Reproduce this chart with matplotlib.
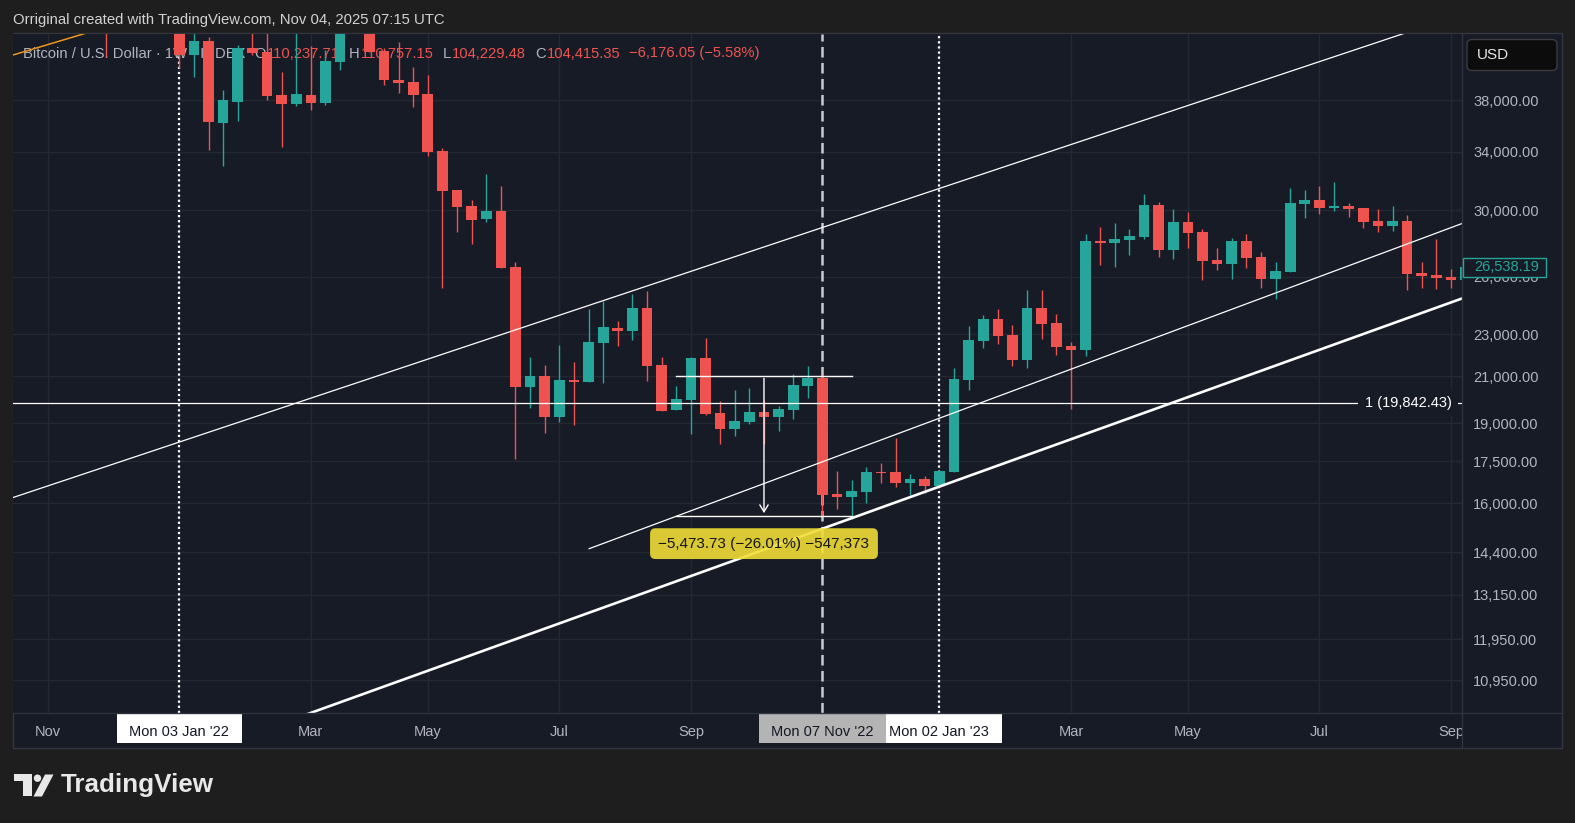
import matplotlib.pyplot as plt
import numpy as np
import pandas as pd
from matplotlib.patches import Rectangle, FancyBboxPatch, Circle, Polygon
from matplotlib.lines import Line2D
from matplotlib.transforms import Affine2D, blended_transform_factory
from matplotlib.ticker import NullLocator

plt.rcParams['font.family'] = ['Liberation Sans', 'DejaVu Sans']

W, H = 1575, 823
BG = '#171b26'
OUTER = '#1e1e1e'
GRID = '#242833'
SEP = '#2f333e'
UP = '#26a69a'
DOWN = '#ef5350'
AXIS_TXT = '#b2b5be'

# weekly BTC candles, 18 Oct 2021 .. 11 Sep 2023
week_start = pd.date_range('2021-10-18', '2023-09-11', freq='7D')
opens = [61530, 60860, 61320, 63270, 65500, 59000, 57300, 49400, 50100, 46700, 50800,
         46400, 41850, 43130, 36150, 37860, 42460, 42150, 38410, 37700, 38410,
         37780, 41250, 46800, 46400, 42240, 39670, 39500, 38490, 34060, 31330,
         30270, 29440, 29950, 26580, 20545, 21020, 19260, 20840, 20770, 22580,
         23300, 23170, 24320, 21520, 19540, 19970, 21860, 19430, 18760, 19050,
         19460, 19260, 19540, 20580, 20930, 16320, 16210, 16400, 17110, 17110,
         16720, 16850, 16610, 17120, 20840, 22660, 23760, 22960, 21760, 24320,
         23550, 22420, 22230, 28080, 27960, 28140, 28320, 30340, 27550, 29250,
         28630, 26960, 26730, 28080, 27130, 25880, 26280, 30400, 30660, 30140,
         30270, 30140, 29310, 29000, 29310, 26220, 26110, 26000, 25830]
highs = [67000, 63700, 64270, 69000, 66300, 59400, 59100, 51000, 50500, 51800, 52000,
         47500, 44400, 43530, 38820, 42760, 45800, 44700, 40380, 45400, 42690,
         42300, 48200, 48200, 47200, 42450, 43000, 40760, 40090, 34260, 31330,
         30660, 32420, 31600, 26860, 21910, 21520, 22470, 21660, 24270, 24710,
         23670, 25080, 25230, 21910, 20580, 21910, 22820, 19930, 20400, 20490,
         19970, 19710, 21110, 21480, 21045, 17150, 16820, 17290, 17440, 18400,
         17040, 16960, 17180, 21390, 23400, 23960, 24270, 23450, 25280, 25280,
         24010, 22610, 28510, 28940, 29190, 28810, 31060, 30530, 30080, 29890,
         28810, 27660, 28260, 28510, 27430, 26850, 31460, 31330, 31600, 31870,
         30470, 30150, 30080, 30270, 29690, 26850, 28200, 26440, 26880]
lows = [59700, 57820, 59400, 62330, 55600, 53500, 41700, 47000, 45600, 45600, 45700,
        40700, 39900, 34140, 32980, 36350, 41850, 38000, 34380, 37540, 37190,
        37600, 40530, 45200, 42100, 39240, 38600, 37460, 33700, 25410, 28650,
        27920, 29270, 26500, 17590, 19640, 18620, 19060, 18940, 20770, 20720,
        22430, 22710, 20800, 19500, 19540, 18560, 19330, 18170, 18480, 18970,
        18170, 18680, 19170, 20050, 15570, 15800, 15470, 16020, 16720, 16580,
        16300, 16370, 16580, 17110, 20400, 22340, 22520, 21480, 21390, 22760,
        21990, 19580, 21940, 26680, 26560, 27250, 28200, 27130, 27020, 27660,
        25830, 26390, 25880, 26500, 25390, 24800, 26280, 29500, 29760, 29950,
        29570, 28880, 28630, 28690, 25280, 25390, 25340, 25390, 24930]
closes = [60860, 61320, 63270, 65500, 59000, 57300, 49400, 50100, 46700, 50800, 46400,
          41850, 43130, 36270, 38000, 42460, 42060, 38350, 37700, 38490, 37780,
          41320, 46800, 46400, 42150, 39670, 39440, 38410, 34010, 31280, 30230,
          29380, 29950, 26520, 20545, 21020, 19260, 20840, 20750, 22610, 23350,
          23170, 24320, 21490, 19510, 20010, 21860, 19380, 18760, 19090, 19460,
          19260, 19580, 20620, 20930, 16290, 16230, 16430, 17110, 17070, 16720,
          16850, 16610, 17150, 20890, 22710, 23760, 22910, 21760, 24320, 23500,
          22370, 22230, 28080, 27960, 28200, 28380, 30340, 27550, 29250, 28570,
          26900, 26730, 28080, 27080, 25880, 26330, 30470, 30660, 30140, 30270,
          30080, 29250, 29000, 29310, 26160, 26050, 25940, 25830, 26538.19]
last_price = closes[-1]

price_ticks = [10950, 11950, 13150, 14400, 16000, 17500, 19000, 21000, 23000,
               26000, 30000, 34000, 38000]
month_dates = ['2021-11-01', '2022-03-07', '2022-05-02', '2022-07-04', '2022-09-05',
               '2023-03-06', '2023-05-01', '2023-07-03', '2023-09-04']
month_labels = ['Nov', 'Mar', 'May', 'Jul', 'Sep', 'Mar', 'May', 'Jul', 'Sep']
grid_dates = month_dates + ['2022-01-03', '2022-11-07', '2023-01-02']
marked_dates = ['2022-01-03', '2023-01-02', '2022-11-07']
marked_labels = ["Mon 03 Jan '22", "Mon 02 Jan '23", "Mon 07 Nov '22"]
marked_fill = ['#ffffff', '#ffffff', '#b4b4b4']

# drawings (date, price)
upper_line = [('2021-10-11', 16093), ('2023-09-25', 46777)]
mid_line = [('2022-07-18', 14508), ('2023-09-25', 29930)]
low_line = [('2022-02-28', 10092), ('2023-09-25', 25463)]
orange_line = [('2021-10-11', 41607), ('2021-12-20', 45698)]
level_price = 19842.43
meas_dates = ['2022-08-29', '2022-11-21']
meas_top, meas_bottom = 21044.73, 15571.00

legend_pieces = [('Bitcoin / U.S. Dollar · 1W · INDEX', AXIS_TXT, 0),
                 ('O', AXIS_TXT, 9), ('110,237.71', DOWN, 1),
                 ('H', AXIS_TXT, 9), ('110,757.15', DOWN, 1),
                 ('L', AXIS_TXT, 9), ('104,229.48', DOWN, 1),
                 ('C', AXIS_TXT, 9), ('104,415.35', DOWN, 1),
                 ('\u22126,176.05 (\u22125.58%)', DOWN, 9)]

ref = pd.Timestamp('2022-01-03')


def wk(d):
    return (pd.Timestamp(d) - ref).days / 7


x = ((week_start - ref).days / 7).to_numpy()
o, h, l, c = (np.array(v, dtype=float) for v in (opens, highs, lows, closes))

fig = plt.figure(figsize=(W / 100, H / 100), dpi=100, facecolor=OUTER)
px = Affine2D().scale(1 / W, -1 / H).translate(0, 1) + fig.transFigure


def rect(l_, t_, r_, b_):
    return [l_ / W, 1 - b_ / H, (r_ - l_) / W, (b_ - t_) / H]


fig.add_artist(Rectangle((12.5, 33.3), 1549.5, 714.4, transform=px, fc=BG,
                         ec='#34373f', lw=1, zorder=0))

ax = fig.add_axes(rect(13, 34, 1462, 713.3))
ax.set_facecolor(BG)
ax.set_yscale('log')

colors = np.where(c >= o, UP, DOWN)
ax.vlines(x, l, h, colors=colors, lw=1.0, zorder=2)
body = np.maximum(np.abs(c - o), o * 0.003)
ax.bar(x, body, bottom=np.minimum(o, c), width=0.73, color=colors, lw=0, zorder=3)

ax.set_xlim(-11.377, 87.754)
ax.set_ylim(10197, 43779)
ax.set_yticks(price_ticks)
ax.set_yticklabels([f'{v:,.2f}' for v in price_ticks])
ax.yaxis.set_minor_locator(NullLocator())
ax.yaxis.tick_right()
ax.tick_params(axis='y', length=0, pad=8, labelsize=10.5, labelcolor=AXIS_TXT)
ax.set_xticks([wk(d) for d in grid_dates])
ax.set_xticklabels([])
ax.tick_params(axis='x', length=0)
ax.grid(True, color=GRID, lw=1)
ax.set_axisbelow(True)
for s in ax.spines.values():
    s.set_visible(False)

# legend row under the candles
prev = ax.text(23, 53.5, legend_pieces[0][0], transform=px, color=legend_pieces[0][1],
               fontsize=10.6, va='center', ha='left', zorder=1)
for s, col, gap in legend_pieces[1:]:
    prev = ax.annotate(s, xy=(1, 0.5), xycoords=prev, xytext=(gap, 0),
                       textcoords='offset pixels', va='center', ha='left',
                       color=col, fontsize=10.6, zorder=1, annotation_clip=False)

# date markers (behind candles)
ax.axvline(wk('2022-01-03'), color='white', lw=1.6, ls=(0, (1, 1.3)), zorder=1.5)
ax.axvline(wk('2023-01-02'), color='white', lw=1.6, ls=(0, (1, 1.3)), zorder=1.5)
ax.axvline(wk('2022-11-07'), color='#c9cbd1', lw=1.8, ls=(0, (4.2, 2.2)), zorder=1.5)

# trend lines
for pts, col, lw in [(upper_line, 'white', 0.9), (mid_line, 'white', 0.9),
                     (low_line, 'white', 1.9), (orange_line, '#f0961c', 1.1)]:
    ax.plot([wk(pts[0][0]), wk(pts[1][0])], [pts[0][1], pts[1][1]],
            color=col, lw=lw, zorder=5, solid_capstyle='butt')

# horizontal level with label
ax.axhline(level_price, color='white', lw=0.9, zorder=5)
bl = blended_transform_factory(ax.transAxes, ax.transData)
ax.text(0.9928, level_price, f'1 ({level_price:,.2f})', transform=bl, ha='right',
        va='center', color='white', fontsize=10.5, zorder=6,
        bbox=dict(boxstyle='square,pad=0.45', fc=BG, ec='none'))

# price range measurement
m0, m1 = wk(meas_dates[0]), wk(meas_dates[1])
mid = (m0 + m1) / 2
ax.plot([m0, m1], [meas_top, meas_top], color='white', lw=1, zorder=6)
ax.plot([m0, m1], [meas_bottom, meas_bottom], color='white', lw=1, zorder=6)
ax.annotate('', xy=(mid, meas_bottom), xytext=(mid, meas_top),
            arrowprops=dict(arrowstyle='->,head_length=0.5,head_width=0.3',
                            color='white', lw=1), zorder=6)
ax.text(mid, meas_bottom * 0.9423,
        f'\u2212{meas_top - meas_bottom:,.2f} (\u2212{(1 - meas_bottom / meas_top) * 100:.2f}%) \u2212547,373',
        ha='center', va='center', color='#141414', fontsize=11, zorder=8,
        bbox=dict(boxstyle='round,pad=0.55,rounding_size=0.35', fc='#f0dd36',
                  ec='none', alpha=0.9))

# time axis
tax = fig.add_axes(rect(13, 713.3, 1462, 747.7))
tax.set_xlim(ax.get_xlim())
tax.set_ylim(0, 1)
tax.axis('off')
for d, s in zip(month_dates, month_labels):
    tax.text(wk(d), 0.465, s, ha='center', va='center', color=AXIS_TXT,
             fontsize=10.5, clip_on=True)
for d, s, fc in zip(marked_dates, marked_labels, marked_fill):
    wdt = 8.66 if fc != '#ffffff' else 8.52
    tax.add_patch(Rectangle((wk(d) - wdt / 2, 0.145), wdt, 0.855, fc=fc, ec='none',
                            zorder=2))
for d, s in zip(marked_dates, marked_labels):
    tax.text(wk(d), 0.465, s, ha='center', va='center', color='#131722',
             fontsize=10.5, zorder=3)

# panel separators
fig.add_artist(Line2D([1462, 1462], [34, 747.7], transform=px, color=SEP, lw=1, zorder=4))
fig.add_artist(Line2D([13, 1562], [713.3, 713.3], transform=px, color=SEP, lw=1, zorder=4))

# last price tag on the price scale
bp = blended_transform_factory(px, ax.transData)
fig.add_artist(Rectangle((1463.3, last_price / 1.0212), 82.7,
                         last_price * 1.0212 - last_price / 1.0212, transform=bp,
                         fc=BG, ec=UP, lw=1, zorder=5))
fig.text(1474, last_price, f'{last_price:,.2f}', transform=bp, color=UP,
         fontsize=10.5, va='center', ha='left', zorder=6)

# currency button
fig.add_artist(FancyBboxPatch((1467, 39.5), 90, 31, boxstyle='round,pad=0,rounding_size=5',
                              transform=px, fc='#0c0c0c', ec='#3c3c3c', lw=1, zorder=5))
fig.text(1477, 55, 'USD', transform=px, color='#e6e6e6', fontsize=11, va='center',
         ha='left', zorder=6)

# header and watermark
fig.text(13, 20, 'Orriginal created with TradingView.com, Nov 04, 2025 07:15 UTC',
         transform=px, color='#d2d2d2', fontsize=10.7, va='center', ha='left')
LOGO = '#e8e8e8'
fig.add_artist(Polygon([(14, 774.5), (31.5, 774.5), (31.5, 796.5), (23, 796.5),
                        (23, 781.5), (14, 781.5)], closed=True, transform=px, fc=LOGO,
                       ec='none'))
fig.add_artist(Circle((37.5, 778.2), 3.7, transform=px, fc=LOGO, ec='none'))
fig.add_artist(Polygon([(33.5, 796.5), (42, 796.5), (53.5, 774.5), (45, 774.5)],
                       closed=True, transform=px, fc=LOGO, ec='none'))
fig.text(61, 785, 'TradingView', transform=px, color=LOGO, fontsize=18.7,
         fontweight='bold', va='center', ha='left')

fig.savefig('out.png', dpi=100, facecolor=OUTER)
